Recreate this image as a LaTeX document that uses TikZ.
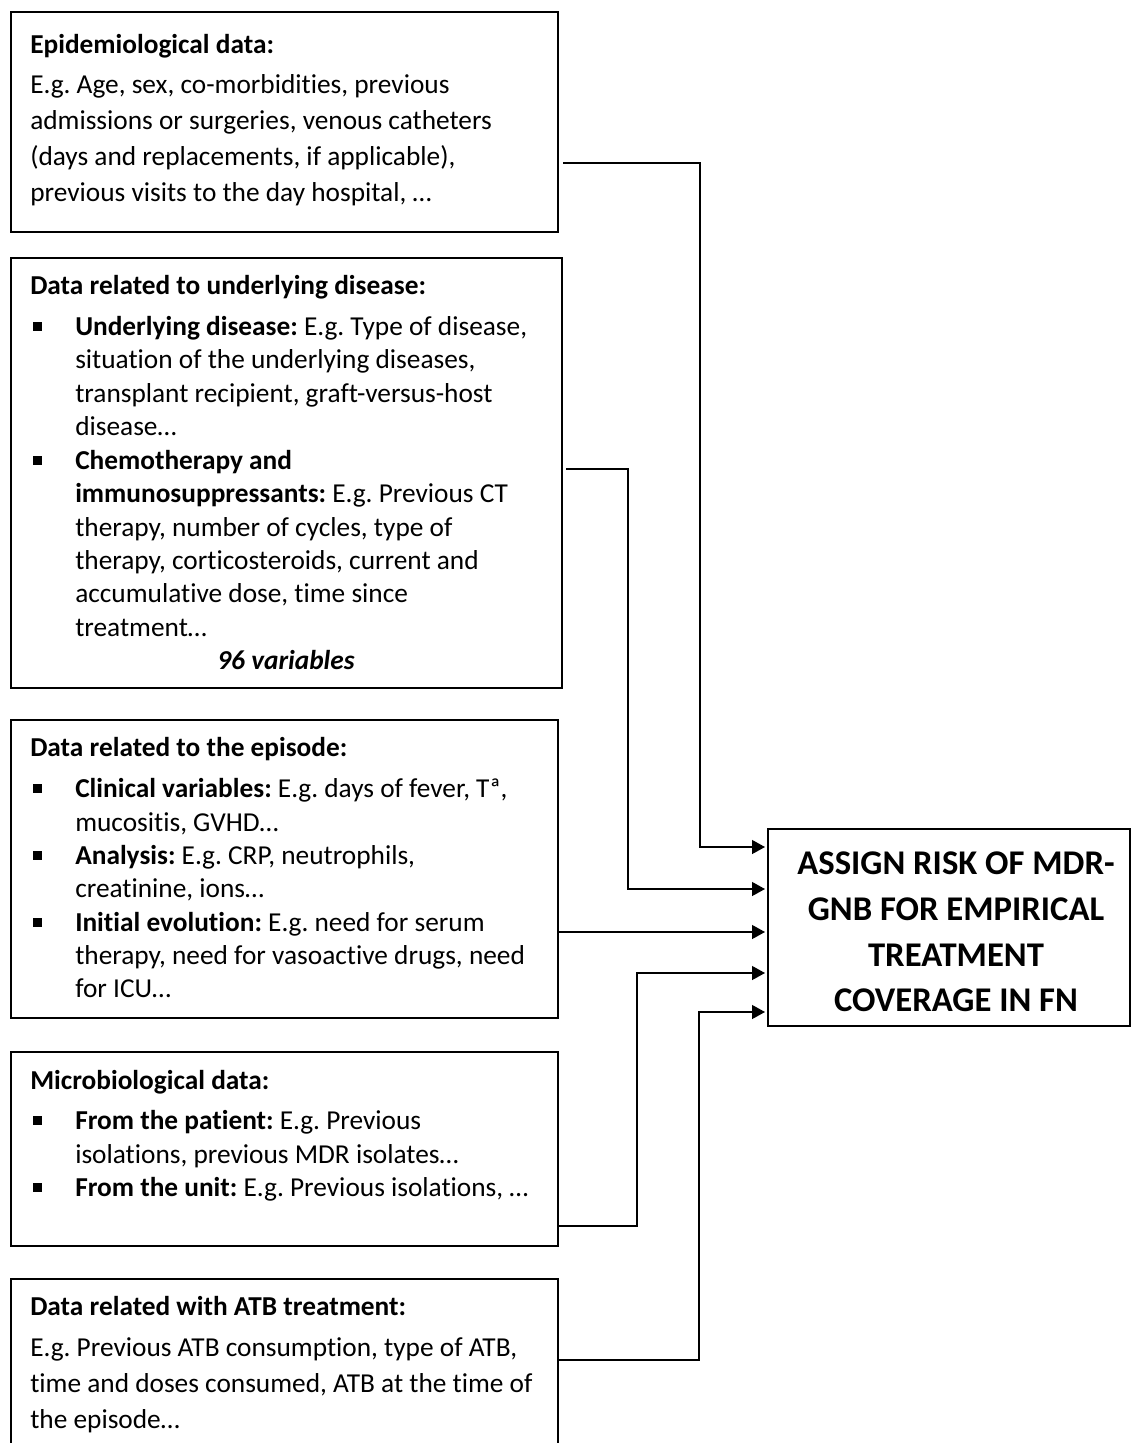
\documentclass[tikz,border=0pt]{standalone}
\usepackage{fontspec}
\setmainfont[Ligatures={NoCommon,NoRequired,NoContextual},RawFeature={-calt;-clig;-liga;-ccmp}]{Carlito}
\usetikzlibrary{arrows.meta,calc}
\XeTeXinterchartokenstate=1
\newXeTeXintercharclass\mytclass
\newXeTeXintercharclass\myiclass
\XeTeXcharclass`t=\mytclass
\XeTeXcharclass`i=\myiclass
\XeTeXinterchartoks\mytclass\myiclass={\kern0pt }
\tikzset{
  box/.style={draw, line width=1.5pt, inner sep=0pt, outer sep=0pt, anchor=north west},
  txt/.style={inner sep=0pt, anchor=base west, font=\fontsize{20.5pt}{25pt}\selectfont},
  ctr/.style={inner sep=0pt, anchor=base, font=\fontsize{20.5pt}{25pt}\selectfont},
  big/.style={inner sep=0pt, anchor=base, font=\fontsize{26pt}{34pt}\selectfont\bfseries},
  conn/.style={line width=1pt},
  arr/.style={line width=1pt, -{Triangle[length=9.75pt, width=10.5pt]}},
}
\newcommand{\bul}[1]{\fill (33,#1-13) rectangle ++(8.5,8.5);}
\frenchspacing
\begin{document}
\begin{tikzpicture}[x=0.75pt,y=-0.75pt]
\useasboundingbox (0,0) rectangle (1131,1443);
\clip (0,0) rectangle (1131,1443);
% boxes
\node[box, minimum width={547*0.75pt}, minimum height={220*0.75pt}] (epi) at (11,12) {};
\node[box, minimum width={551*0.75pt}, minimum height={430*0.75pt}] (und) at (11,258) {};
\node[box, minimum width={547*0.75pt}, minimum height={298*0.75pt}] (eps) at (11,720) {};
\node[box, minimum width={547*0.75pt}, minimum height={194*0.75pt}] (mic) at (11,1052) {};
\node[box, minimum width={547*0.75pt}, minimum height={220*0.75pt}] (atb) at (11,1279) {};
\node[box, minimum width={362*0.75pt}, minimum height={197*0.75pt}] (tgt) at (768,829) {};

% box 1 text
\node[txt] (e0) at (30,53) {\bfseries Epidemiological data:};
\node[txt] (e1) at (30,93) {E.g. Age, sex, co-morbidities, previous};
\node[txt] (e2) at (30,129) {admissions or surgeries, venous catheters};
\node[txt] (e3) at (30,165) {(days and replacements, if applicable),};
\node[txt] (e4) at (30,201) {previous visits to the day hospital, …};

% box 2 text
\node[txt] (u0) at (30,294) {\bfseries Data related to underlying disease:};
\bul{335}
\node[txt] (u1) at (75,335) {\textbf{Underlying disease:} E.g. Type of disease,};
\node[txt] (u2) at (75,368) {situation of the underlying diseases,};
\node[txt] (u3) at (75,402) {transplant recipient, graft-versus-host};
\node[txt] (u4) at (75,435) {disease…};
\bul{469}
\node[txt] (u5) at (75,469) {\textbf{Chemotherapy and}};
\node[txt] (u6) at (75,502) {\textbf{immunosuppressants:} E.g. Previous CT};
\node[txt] (u7) at (75,536) {therapy, number of cycles, type of};
\node[txt] (u8) at (75,569) {therapy, corticosteroids, current and};
\node[txt] (u9) at (75,602) {accumulative dose, time since};
\node[txt] (u10) at (75,636) {treatment…};
\node[ctr] (u11) at (286,669) {\bfseries\itshape 96 variables};

% box 3 text
\node[txt] (p0) at (30,756) {\bfseries Data related to the episode:};
\bul{797}
\node[txt] (p1) at (75,797) {\textbf{Clinical variables:} E.g. days of fever, Tª,};
\node[txt] (p2) at (75,831) {mucositis, GVHD…};
\bul{864}
\node[txt] (p3) at (75,864) {\textbf{Analysis:} E.g. CRP, neutrophils,};
\node[txt] (p4) at (75,897) {creatinine, ions…};
\bul{931}
\node[txt] (p5) at (75,931) {\textbf{Initial evolution:} E.g. need for serum};
\node[txt] (p6) at (75,964) {therapy, need for vasoactive drugs, need};
\node[txt] (p7) at (75,997) {for ICU…};

% box 4 text
\node[txt] (m0) at (30,1089) {\bfseries Microbiological data:};
\bul{1129}
\node[txt] (m1) at (75,1129) {\textbf{From the patient:} E.g. Previous};
\node[txt] (m2) at (75,1163) {isolations, previous MDR isolates…};
\bul{1196}
\node[txt] (m3) at (75,1196) {\textbf{From the unit:} E.g. Previous isolations, …};

% box 5 text
\node[txt] (a0) at (30,1315) {\bfseries Data related with ATB treatment:};
\node[txt] (a1) at (30,1356) {E.g. Previous ATB consumption, type of ATB,};
\node[txt] (a2) at (30,1392) {time and doses consumed, ATB at the time of};
\node[txt] (a3) at (30,1428) {the episode…};

% target text
\node[big] (t1) at (956,874) {ASSIGN RISK OF MDR-};
\node[big] (t2) at (956,920) {GNB FOR EMPIRICAL};
\node[big] (t3) at (956,966) {TREATMENT};
\node[big] (t4) at (956,1011) {COVERAGE IN FN};

% connectors
\draw[arr] ($(epi.east)+(5,41)$) -- ($(epi.east)+(142,41)$) -- ($(tgt.west)+(-68,-80.5)$) -- ($(tgt.west)+(-3,-80.5)$);
\draw[arr] ($(und.east)+(4,-4)$) -- ($(und.east)+(66,-4)$) -- ($(tgt.west)+(-140,-38.5)$) -- ($(tgt.west)+(-3,-38.5)$);
\draw[arr] ($(eps.east)+(0,63)$) -- ($(tgt.west)+(-3,4.5)$);
\draw[arr] ($(mic.east)+(0,77)$) -- ($(mic.east)+(79,77)$) -- ($(tgt.west)+(-131,45.5)$) -- ($(tgt.west)+(-3,45.5)$);
\draw[arr] ($(atb.east)+(0,-29)$) -- ($(atb.east)+(141,-29)$) -- ($(tgt.west)+(-69,84.5)$) -- ($(tgt.west)+(-3,84.5)$);
\end{tikzpicture}
\end{document}
